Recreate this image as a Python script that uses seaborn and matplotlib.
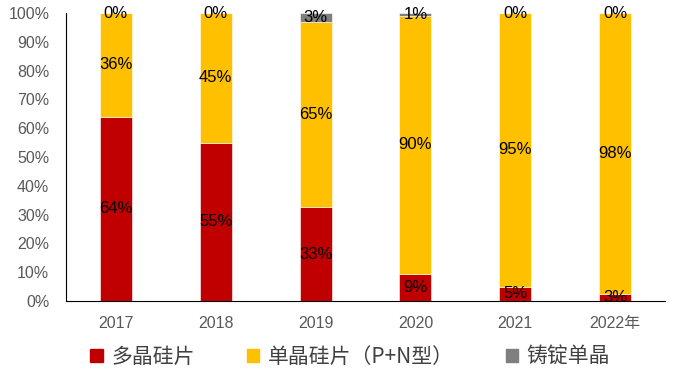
import matplotlib
matplotlib.use("Agg")
import matplotlib.pyplot as plt
import seaborn as sns
import numpy as np
from matplotlib.ticker import FixedLocator

years = ["2017", "2018", "2019", "2020", "2021", "2022年"]
series_names = ["多晶硅片", "单晶硅片（P+N型）", "铸锭单晶"]
poly = [64, 55, 32.5, 9.4, 4.9, 2.4]
mono = [36, 45, 64.5, 89.6, 95.1, 97.6]
cast = [0, 0, 3, 1, 0, 0]
poly_labels = ["64%", "55%", "33%", "9%", "5%", "3%"]
mono_labels = ["36%", "45%", "65%", "90%", "95%", "98%"]
cast_labels = ["0%", "0%", "3%", "1%", "0%", "0%"]
colors = ["#C00000", "#FFC000", "#7F7F7F"]

sns.set_style("white")
NUM_FONT = ['Liberation Sans', 'Noto Sans CJK SC', 'DejaVu Sans']
plt.rcParams['font.family'] = NUM_FONT

fig = plt.figure(figsize=(6.75, 3.71), dpi=100)
ax = fig.add_axes([66/675, 1-301/371, 599/675, 288/371])

bottom = np.zeros(len(years))
handles = []
for vals, labs, col, name in zip([poly, mono, cast],
                                 [poly_labels, mono_labels, cast_labels],
                                 colors, series_names):
    sns.barplot(x=years, y=vals, bottom=bottom, color=col, width=0.32,
                ax=ax, saturation=1, edgecolor="white", linewidth=0.4)
    cont = ax.containers[-1]
    ax.bar_label(cont, labels=labs, label_type="center", fontsize=12,
                 color="black", family=NUM_FONT)
    handles.append(plt.Rectangle((0, 0), 1, 1, color=col))
    bottom = bottom + np.array(vals)

ax.set_xlim(-0.5, 5.5)
ax.set_ylim(0, 100)
ax.set_yticks(np.arange(0, 101, 10))
ax.set_yticklabels([f"{v}%" for v in range(0, 101, 10)])
ax.xaxis.set_minor_locator(FixedLocator(np.arange(-0.5, 5.6, 1)))
ax.tick_params(axis="x", which="major", length=0, pad=11, labelsize=11.5, labelcolor="#595959")
ax.tick_params(axis="x", which="minor", length=5, direction="in", color="black", width=0.8)
ax.tick_params(axis="y", which="major", length=5, direction="in", color="black", width=0.8,
               labelsize=11.5, labelcolor="#595959", pad=12)
for lab in ax.get_xticklabels():
    lab.set_fontfamily(NUM_FONT)

for s in ["top", "right"]:
    ax.spines[s].set_visible(False)
for s in ["left", "bottom"]:
    ax.spines[s].set_color("black")
    ax.spines[s].set_linewidth(0.8)
ax.set_xlabel("")
ax.set_ylabel("")

leg = fig.legend(handles, series_names, loc="center", bbox_to_anchor=(350/675, 1-357/371),
                 ncol=3, frameon=False, handlelength=0.6, handleheight=0.6,
                 handletextpad=0.4, columnspacing=2.5,
                 prop={'family': ['Noto Sans CJK SC', 'DejaVu Sans'], 'size': 15})
for t in leg.get_texts():
    t.set_color("#404040")

fig.savefig("out.png", dpi=100)
